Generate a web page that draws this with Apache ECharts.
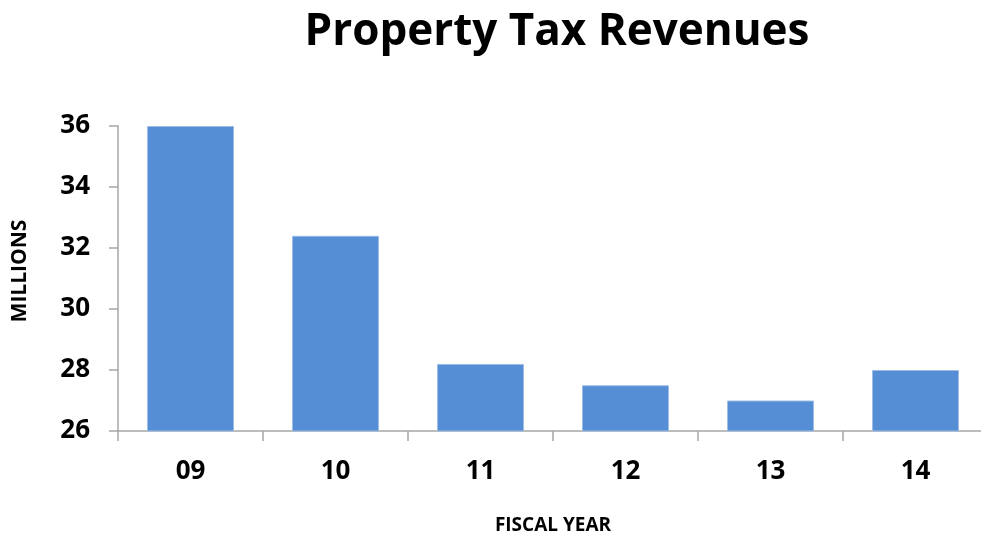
<!DOCTYPE html>
<html>
<head>
<meta charset="utf-8">
<script src="https://cdn.jsdelivr.net/npm/echarts@6/dist/echarts.min.js"></script>
<style>
  html, body { margin: 0; padding: 0; background: #ffffff; }
  #chart { width: 981px; height: 537px; }
</style>
</head>
<body>
<div id="chart"></div>
<script>
// Fiscal years and property tax revenues (millions)
const fiscalYears = ['09', '10', '11', '12', '13', '14'];
const revenues = [36.0, 32.4, 28.2, 27.5, 27.0, 28.0];
const yTicks = [26, 28, 30, 32, 34, 36];

const FONT = 'Open Sans';

const chart = echarts.init(document.getElementById('chart'));
chart.setOption({
  backgroundColor: '#ffffff',
  animation: false,
  title: {
    text: 'Property Tax Revenues',
    left: 552,
    top: 5,
    textAlign: 'center',
    textStyle: { fontFamily: FONT, fontWeight: 'bold', fontSize: 44, color: '#000000' }
  },
  grid: { left: 118, right: -7, top: 126, bottom: 106, containLabel: false, outerBoundsMode: 'none' },
  xAxis: {
    type: 'category',
    data: fiscalYears,
    name: 'FISCAL YEAR',
    nameLocation: 'middle',
    nameGap: 85,
    nameTextStyle: { fontFamily: FONT, fontWeight: 'bold', fontSize: 19, color: '#000000' },
    axisLine: { lineStyle: { color: '#a6a6a6', width: 1.5 } },
    axisTick: { show: true, length: 10, alignWithLabel: false, lineStyle: { color: '#a6a6a6', width: 1.5 } },
    axisLabel: { margin: 28, fontFamily: FONT, fontWeight: 'bold', fontSize: 26, color: '#000000' }
  },
  yAxis: {
    type: 'value',
    min: yTicks[0],
    max: yTicks[yTicks.length - 1],
    interval: 2,
    axisLine: { show: true, lineStyle: { color: '#a6a6a6', width: 1.5 } },
    axisTick: { show: true, length: 9, lineStyle: { color: '#a6a6a6', width: 1.5 } },
    splitLine: { show: false },
    axisLabel: { margin: 28, fontFamily: FONT, fontWeight: 'bold', fontSize: 26, color: '#000000' }
  },
  graphic: [{
    type: 'text',
    x: 20,
    y: 271,
    rotation: Math.PI / 2,
    style: {
      text: 'MILLIONS',
      fontFamily: FONT,
      fontWeight: 'bold',
      fontSize: 21,
      fill: '#000000',
      textAlign: 'center',
      textVerticalAlign: 'middle'
    }
  }],
  series: [{
    type: 'bar',
    data: revenues,
    barCategoryGap: '40%',
    itemStyle: { color: '#558ed5', borderColor: '#9ebce6', borderWidth: 1 }
  }]
});
</script>
</body>
</html>
